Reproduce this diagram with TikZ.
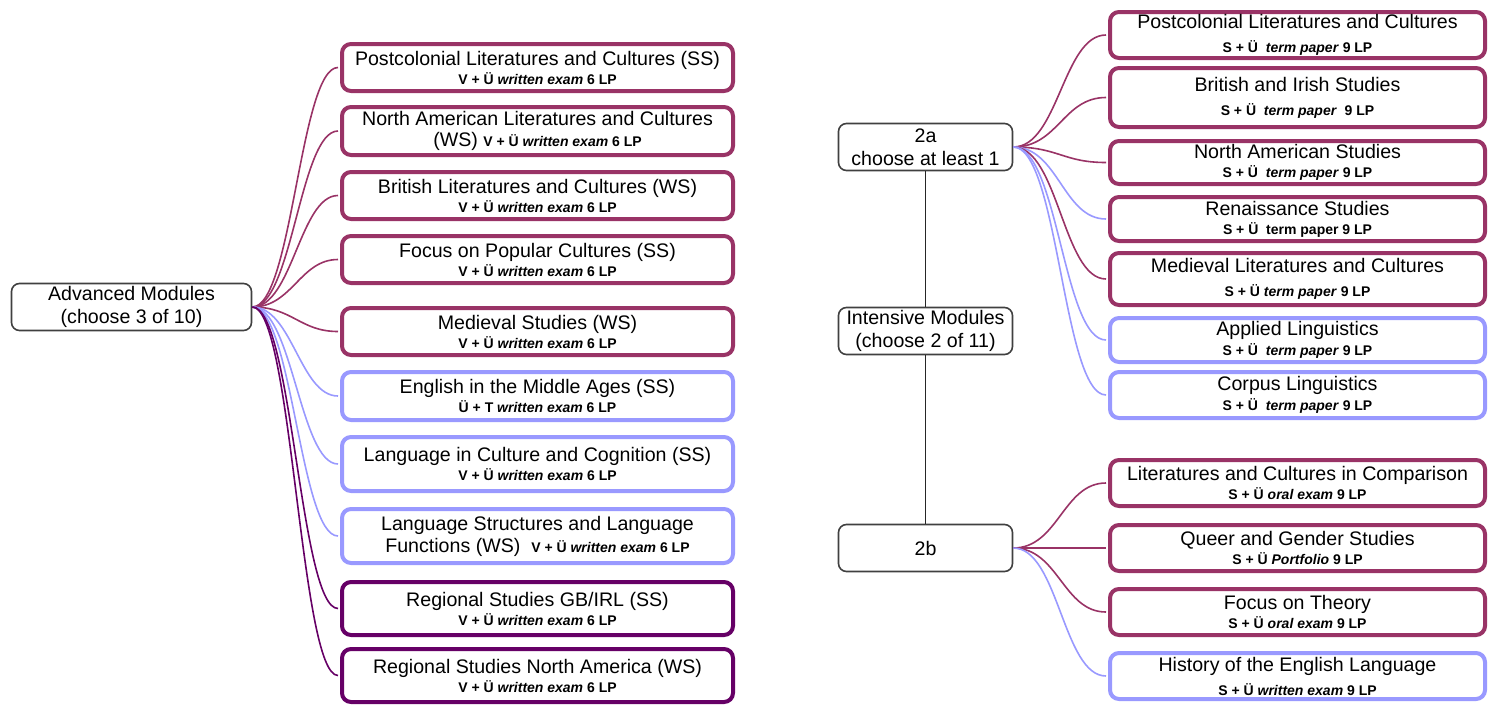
\documentclass[tikz,border=0pt]{standalone}
\usepackage{fontspec}
\setmainfont{Liberation Sans}
\definecolor{modred}{HTML}{993366}
\definecolor{modblue}{HTML}{9999FF}
\definecolor{modpurple}{HTML}{660066}
\newcommand{\lp}[1]{{\fontsize{7}{8}\selectfont\bfseries #1}}
\begin{document}
\begin{tikzpicture}[x=0.5pt,y=-0.5pt,
  every node/.style={font=\fontsize{9.8}{11}\selectfont},
  root/.style={draw=black!75,line width=0.8pt,rounded corners=4pt,fill=white,align=center,inner sep=0pt,minimum height=23.5pt},
  mod/.style={draw,line width=2pt,rounded corners=4.5pt,fill=white,align=center,inner sep=0pt},
  lmod/.style={mod,minimum width=195.5pt},
  rmod/.style={mod,minimum width=187.5pt},
  redbox/.style={draw=modred},
  bluebox/.style={draw=modblue},
  purplebox/.style={draw=modpurple},
  link/.style={line width=0.8pt,shorten >=1pt},
  redlink/.style={link,draw=modred},
  bluelink/.style={link,draw=modblue},
  purplelink/.style={link,draw=modpurple}]
\useasboundingbox (0,0) rectangle (1489,707);

% advanced modules
\node[root,minimum width=120pt] (adv) at (131.5,307) {Advanced Modules\\[0.5pt](choose 3 of 10)};

\node[lmod,redbox,minimum height=23.5pt] (l1) at (537.5,67.5) {Postcolonial Literatures and Cultures (SS)\\[-1.5pt]\lp{V + Ü \textit{written exam} 6 LP}};
\node[lmod,redbox,minimum height=24pt] (l2) at (537.5,131) {North American Literatures and Cultures\\[-0.5pt](WS) \lp{V + Ü \textit{written exam} 6 LP}};
\node[lmod,redbox,minimum height=23.5pt] (l3) at (537.5,195.5) {British Literatures and Cultures (WS)\\[-1.5pt]\lp{V + Ü \textit{written exam} 6 LP}};
\node[lmod,redbox,minimum height=23.5pt] (l4) at (537.5,259.5) {Focus on Popular Cultures (SS)\\[-1.5pt]\lp{V + Ü \textit{written exam} 6 LP}};
\node[lmod,redbox,minimum height=23.5pt] (l5) at (537.5,331.5) {Medieval Studies (WS)\\[-1.5pt]\lp{V + Ü \textit{written exam} 6 LP}};
\node[lmod,bluebox,minimum height=24pt] (l6) at (537.5,396) {English in the Middle Ages (SS)\\[-1.5pt]\lp{Ü + T \textit{written exam} 6 LP}};
\node[lmod,bluebox,minimum height=27pt] (l7) at (537.5,464) {Language in Culture and Cognition (SS)\\[-1.5pt]\lp{V + Ü \textit{written exam} 6 LP}};
\node[lmod,bluebox,minimum height=27pt] (l8) at (537.5,536) {Language Structures and Language\\[0pt]Functions (WS)\ \ \lp{V + Ü \textit{written exam} 6 LP}};
\node[lmod,purplebox,minimum height=26.5pt] (l9) at (537.5,608.5) {Regional Studies GB/IRL (SS)\\[-1.5pt]\lp{V + Ü \textit{written exam} 6 LP}};
\node[lmod,purplebox,minimum height=26.5pt] (l10) at (537.5,675.5) {Regional Studies North America (WS)\\[-1.5pt]\lp{V + Ü \textit{written exam} 6 LP}};

\draw[redlink] (adv.east) .. controls +(40,0) and +(-40,0) .. (l1.west);
\draw[redlink] (adv.east) .. controls +(40,0) and +(-40,0) .. (l2.west);
\draw[redlink] (adv.east) .. controls +(40,0) and +(-40,0) .. (l3.west);
\draw[redlink] (adv.east) .. controls +(40,0) and +(-40,0) .. (l4.west);
\draw[redlink] (adv.east) .. controls +(40,0) and +(-40,0) .. (l5.west);
\draw[bluelink] (adv.east) .. controls +(40,0) and +(-40,0) .. (l6.west);
\draw[bluelink] (adv.east) .. controls +(40,0) and +(-40,0) .. (l7.west);
\draw[bluelink] (adv.east) .. controls +(40,0) and +(-40,0) .. (l8.west);
\draw[purplelink] (adv.east) .. controls +(40,0) and +(-40,0) .. (l9.west);
\draw[purplelink] (adv.east) .. controls +(40,0) and +(-40,0) .. (l10.west);

% intensive modules
\node[root,minimum width=87pt] (a2) at (925.5,147) {2a\\[0.5pt]choose at least 1};
\node[root,minimum width=87pt] (int) at (925.5,331) {Intensive Modules\\[0.5pt](choose 2 of 11)};
\node[root,minimum width=87pt] (b2) at (925.5,548) {2b};
\draw[black!85,line width=0.6pt] (a2.south) -- (int.north);
\draw[black!85,line width=0.6pt] (int.south) -- (b2.north);

\node[rmod,redbox,minimum height=23pt] (r1) at (1297.5,35) {Postcolonial Literatures and Cultures\\[1pt]\lp{S + Ü\ \ \textit{term paper} 9 LP}};
\node[rmod,redbox,minimum height=29.5pt] (r2) at (1297.5,97.5) {British and Irish Studies\\[1pt]\lp{S + Ü\ \ \textit{term paper}\ \ 9 LP}};
\node[rmod,redbox,minimum height=21.5pt] (r3) at (1297.5,162.5) {North American Studies\\[-1.5pt]\lp{S + Ü\ \ \textit{term paper} 9 LP}};
\node[rmod,redbox,minimum height=22pt] (r4) at (1297.5,219) {Renaissance Studies\\[-1.5pt]\lp{S + Ü\ \ term paper 9 LP}};
\node[rmod,redbox,minimum height=26pt] (r5) at (1297.5,279) {Medieval Literatures and Cultures\\[1pt]\lp{S + Ü \textit{term paper} 9 LP}};
\node[rmod,bluebox,minimum height=22pt] (r6) at (1297.5,340) {Applied Linguistics\\[-1pt]\lp{S + Ü\ \ \textit{term paper} 9 LP}};
\node[rmod,bluebox,minimum height=23pt] (r7) at (1297.5,395) {Corpus Linguistics\\[-1pt]\lp{S + Ü\ \ \textit{term paper} 9 LP}};

\node[rmod,redbox,minimum height=23pt] (r8) at (1297.5,483) {Literatures and Cultures in Comparison\\[-1.5pt]\lp{S + Ü \textit{oral exam} 9 LP}};
\node[rmod,redbox,minimum height=23pt] (r9) at (1297.5,548) {Queer and Gender Studies\\[-1.5pt]\lp{S + Ü \textit{Portfolio} 9 LP}};
\node[rmod,redbox,minimum height=23pt] (r10) at (1297.5,612) {Focus on Theory\\[-1.5pt]\lp{S + Ü \textit{oral exam} 9 LP}};
\node[rmod,bluebox,minimum height=23pt] (r11) at (1297.5,676) {History of the English Language\\[1pt]\lp{S + Ü \textit{written exam} 9 LP}};

\draw[redlink] (a2.east) .. controls +(45,0) and +(-45,0) .. (r1.west);
\draw[redlink] (a2.east) .. controls +(45,0) and +(-45,0) .. (r2.west);
\draw[redlink] (a2.east) .. controls +(45,0) and +(-45,0) .. (r3.west);
\draw[bluelink] (a2.east) .. controls +(45,0) and +(-45,0) .. (r4.west);
\draw[redlink] (a2.east) .. controls +(45,0) and +(-45,0) .. (r5.west);
\draw[bluelink] (a2.east) .. controls +(45,0) and +(-45,0) .. (r6.west);
\draw[bluelink] (a2.east) .. controls +(45,0) and +(-45,0) .. (r7.west);

\draw[redlink] (b2.east) .. controls +(45,0) and +(-45,0) .. (r8.west);
\draw[redlink] (b2.east) .. controls +(45,0) and +(-45,0) .. (r9.west);
\draw[redlink] (b2.east) .. controls +(45,0) and +(-45,0) .. (r10.west);
\draw[bluelink] (b2.east) .. controls +(45,0) and +(-45,0) .. (r11.west);
\end{tikzpicture}
\end{document}
